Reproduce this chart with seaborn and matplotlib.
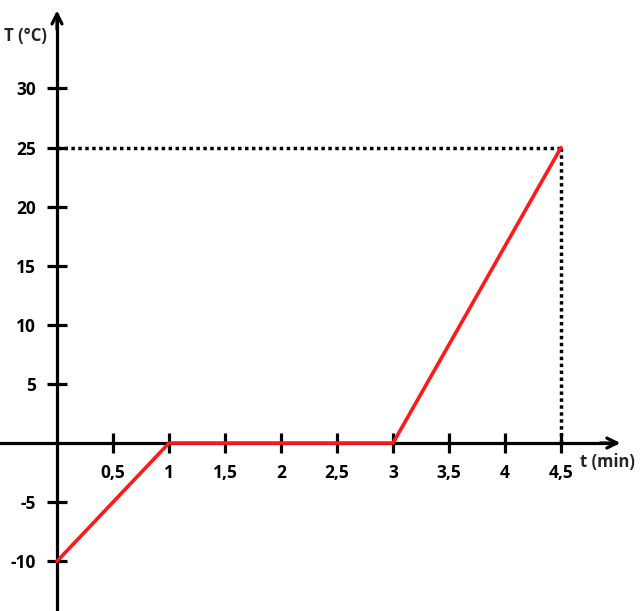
import matplotlib
matplotlib.use("Agg")
import matplotlib.pyplot as plt
import seaborn as sns
import pandas as pd

# data
time_min = [0, 1, 3, 4.5]
temp_c = [-10, 0, 0, 25]
x_ticks = [0.5, 1, 1.5, 2, 2.5, 3, 3.5, 4, 4.5]
x_tick_labels = ["0,5", "1", "1,5", "2", "2,5", "3", "3,5", "4", "4,5"]
y_ticks = [-10, -5, 5, 10, 15, 20, 25, 30]
y_tick_labels = ["-10", "-5", "5", "10", "15", "20", "25", "30"]
end_t = 4.5
end_T = 25

sns.set_style("white")
plt.rcParams["font.family"] = ["Open Sans", "DejaVu Sans"]
plt.rcParams["font.weight"] = "bold"

fig = plt.figure(figsize=(6.4, 6.11), dpi=100)
ax = fig.add_axes([0, 0, 1, 1])
ax.set_xlim(-0.509, 5.205)
ax.set_ylim(-14.21, 37.48)

df = pd.DataFrame({"t": time_min, "T": temp_c})

# guide lines to the end point
ax.plot([0, end_t], [end_T, end_T], color="black", lw=2.5,
        linestyle=(0, (1, 1)), zorder=2)
ax.plot([end_t, end_t], [0, end_T], color="black", lw=2.5,
        linestyle=(0, (1, 1)), zorder=2)

sns.lineplot(data=df, x="t", y="T", color="#ff1a1a", lw=2.6, ax=ax,
             zorder=5, sort=False)

# axes through the origin
for side in ["top", "right"]:
    ax.spines[side].set_visible(False)
ax.spines["left"].set_position(("data", 0))
ax.spines["bottom"].set_position(("data", 0))
ax.spines["left"].set_bounds(-14.21, 36.2)
ax.spines["bottom"].set_bounds(-0.509, 4.98)
for side in ["left", "bottom"]:
    ax.spines[side].set_linewidth(2.3)
    ax.spines[side].set_color("black")
    ax.spines[side].set_zorder(3)

ax.annotate("", xy=(5.03, 0), xytext=(4.85, 0),
            arrowprops=dict(arrowstyle="->", lw=2.3, color="black",
                            mutation_scale=18, shrinkA=0, shrinkB=0),
            zorder=3)
ax.annotate("", xy=(0, 36.6), xytext=(0, 35.0),
            arrowprops=dict(arrowstyle="->", lw=2.3, color="black",
                            mutation_scale=18, shrinkA=0, shrinkB=0),
            zorder=3)

ax.set_xticks(x_ticks)
ax.set_xticklabels(x_tick_labels)
ax.set_yticks(y_ticks)
ax.set_yticklabels(y_tick_labels)
ax.tick_params(axis="both", bottom=True, left=True, direction="inout",
               length=14, width=2.3, color="black", labelsize=12.5,
               pad=8, labelcolor="black")
for lab in ax.get_xticklabels() + ax.get_yticklabels():
    lab.set_fontweight("bold")

ax.set_xlabel("")
ax.set_ylabel("")
ax.text(-0.286, 34.4, "T (°C)", ha="center", va="center",
        fontsize=12, fontweight="bold")
ax.text(4.91, -1.6, "t (min)", ha="center", va="center",
        fontsize=12, fontweight="bold")

fig.savefig("out.png", dpi=100)
